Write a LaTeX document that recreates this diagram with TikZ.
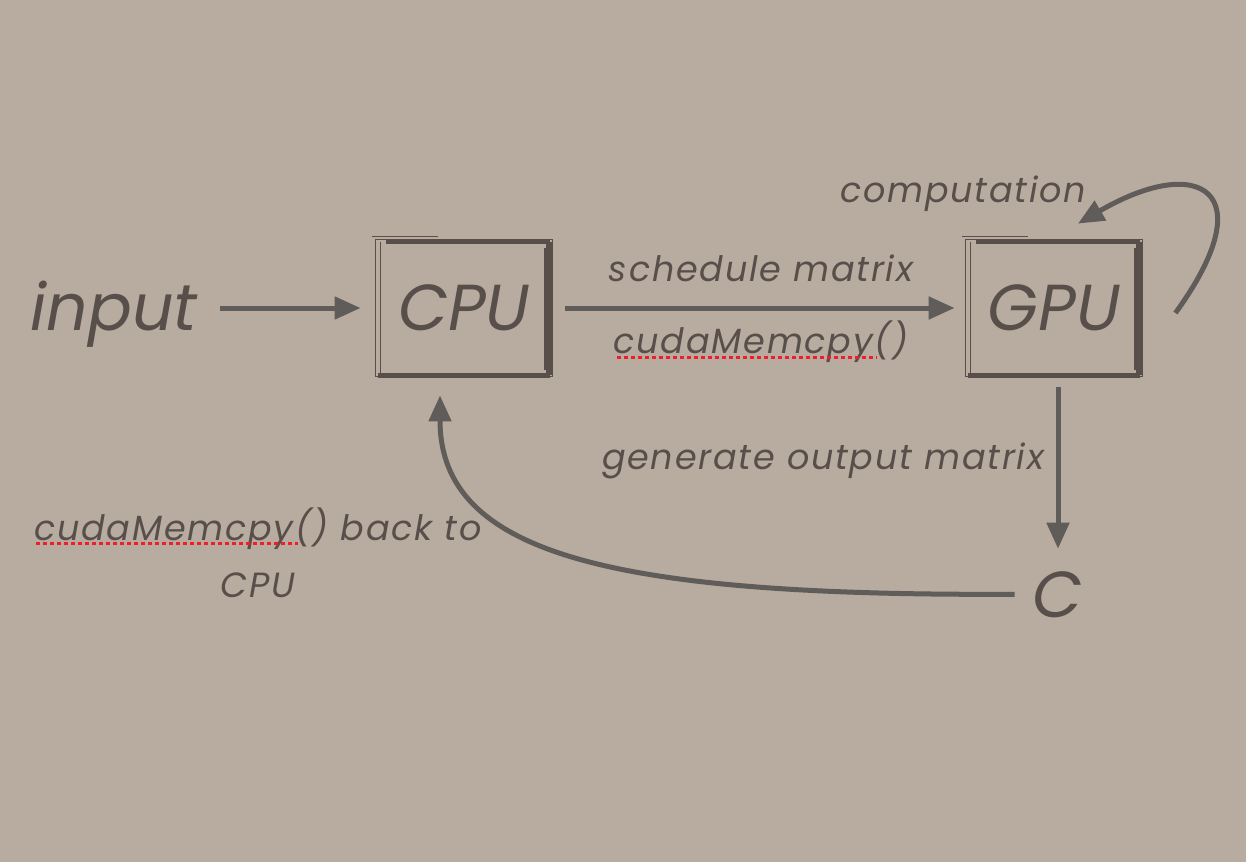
\documentclass[tikz,border=0pt]{standalone}
\usepackage{fontspec}
\setmainfont{Poppins}
\newfontfamily\lblfont[LetterSpace=5]{Poppins}
\usetikzlibrary{arrows.meta,positioning,calc}
\definecolor{paper}{RGB}{184,172,160}
\definecolor{ink}{RGB}{88,79,75}
\definecolor{pen}{RGB}{96,92,89}
\definecolor{squig}{RGB}{240,30,45}

\begin{document}
\begin{tikzpicture}[x=0.5pt,y=-0.5pt,
  every node/.style={text=ink,inner sep=0pt},
  big/.style={font=\fontsize{32.5}{40}\selectfont\itshape},
  lbl/.style={font=\lblfont\fontsize{17.5}{28.5}\selectfont\itshape,align=center,anchor=base},
  unit/.style={minimum width=86pt,minimum height=64pt},
  arr/.style={draw=pen,line width=2.5pt,-{Triangle[length=13pt,width=11pt]}},
  brush/.style={draw=ink,line width=#1},
  squiggle/.style={draw=squig,line width=1.5pt,dash pattern=on 2pt off 1.5pt}]
\useasboundingbox (0,0) rectangle (1246,862);
\fill[paper] (0,0) rectangle (1246,862);

% main units
\node[big,anchor=base] (input) at (114,330) {input};
\node[big,unit] (cpu) at (464,308) {CPU};
\node[big,unit] (gpu) at (1054,308) {GPU};
\node[big,anchor=base] (c) at (1058,617) {C};

% labels
\node[lbl] (sched) at (761,281) {schedule matrix};
\node[lbl] (memcpy) at (761,353) {cudaMemcpy()};
\node[lbl] (gen) at (823,469) {generate output matrix};
\node[lbl] (comp) at (963,202) {computation};
\node[lbl] (back) at (258,597) {cudaMemcpy() back to\\CPU};

% rough frames
\foreach \b in {cpu,gpu}{
  \draw[brush=0.8pt] ([shift={(-1pt,2pt)}]\b.north west) rectangle ([shift={(1pt,-2pt)}]\b.south east);
  \draw[brush=0.5pt] ([shift={(-3pt,3.8pt)}]\b.north west) -- ([shift={(30pt,3.8pt)}]\b.north west);
  \draw[brush=2.6pt] ([shift={(4pt,1pt)}]\b.north west) -- ([shift={(0pt,1pt)}]\b.north east);
  \draw[brush=3pt] ([shift={(-0.5pt,1pt)}]\b.north east) -- ([shift={(-0.5pt,-1.5pt)}]\b.south east);
  \draw[brush=0.7pt] ([shift={(-2.8pt,-2pt)}]\b.north east) -- ([shift={(-2.8pt,1pt)}]\b.south east);
  \draw[brush=2.2pt] ([shift={(0pt,-1.5pt)}]\b.south west) -- ([shift={(0pt,-1.5pt)}]\b.south east);
  \draw[brush=0.8pt] ([shift={(1.5pt,1pt)}]\b.north west) -- ([shift={(1.5pt,-1pt)}]\b.south west);
}

% data flow
\draw[arr,shorten <=11pt] (input.east |- cpu.west) -- ([xshift=-8.5pt]cpu.west);
\draw[arr] ([xshift=7.5pt]cpu.east) -- ([xshift=-6.5pt]gpu.west);
\draw[arr] ([yshift=-7.5pt]c.north |- gpu.south) -- ([yshift=11pt]c.north);
\draw[arr] ([shift={(17.5pt,-2.5pt)}]gpu.east) .. controls +(45pt,62pt) and +(60pt,35pt) .. ([shift={(12pt,10pt)}]gpu.north);
\draw[arr] ([xshift=-9pt]c.west) .. controls +(-200pt,-1pt) and +(0pt,-80pt) .. ([shift={(-12pt,-11.5pt)}]cpu.south);

% spelling marks
\draw[squiggle] (617,357) -- (877,357);
\draw[squiggle] (36,543) -- (298,543);
\end{tikzpicture}
\end{document}
